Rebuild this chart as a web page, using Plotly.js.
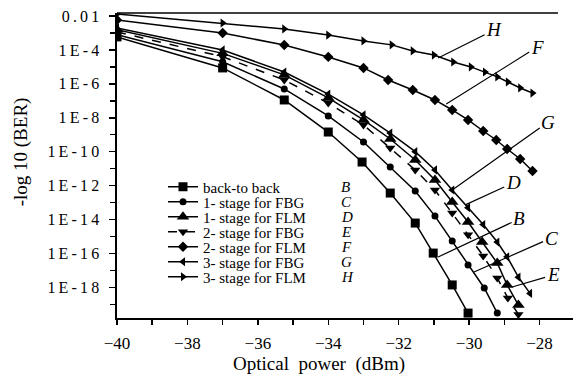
<!DOCTYPE html>
<html>
<head>
<meta charset="utf-8">
<script src="https://cdn.plot.ly/plotly-3.0.1.min.js"></script>
<style>html,body{margin:0;padding:0;background:#fff;}#chart{width:573px;height:385px;}</style>
</head>
<body>
<div id="chart"></div>
<script>
// log10(BER) values
var seriesNames = ["back-to back", "1- stage for FBG", "1- stage for FLM", "2- stage for FBG", "2- stage for FLM", "3- stage for FBG", "3- stage for FLM"];
var seriesLetters = ["B", "C", "D", "E", "F", "G", "H"];

var xB = [-40, -37, -35.25, -34, -33.04, -32.24, -31.53, -31.02, -30.48, -30.03];
var yB = [-3.23, -5.06, -6.95, -8.84, -10.61, -12.44, -14.21, -15.98, -17.86, -19.52];

var xC = [-40, -37, -35.25, -34, -33, -32.24, -31.53, -30.97, -30.48, -30.03, -29.57, -29.2];
var yC = [-3.1, -4.7, -6.3, -7.89, -9.43, -10.9, -12.32, -13.8, -15.27, -16.68, -18.04, -19.52];

var xD = [-40, -37, -35.25, -34, -33, -32.24, -31.53, -30.97, -30.48, -30.03, -29.63, -29.2, -28.92, -28.6];
var yD = [-2.8, -4.2, -5.47, -6.83, -8.13, -9.25, -10.49, -11.67, -12.97, -14.15, -15.33, -16.57, -17.86, -19.05];

var xE = [-40, -37, -35.25, -34, -33, -32.24, -31.53, -30.97, -30.48, -30.03, -29.6, -29.2, -28.9, -28.6];
var yE = [-2.94, -4.4, -5.77, -7.13, -8.42, -9.78, -11.08, -12.26, -13.62, -14.9, -16.15, -17.45, -18.63, -19.6];

var xF = [-40, -37, -35.25, -34, -33, -32.3, -31.6, -30.97, -30.48, -30.03, -29.6, -29.23, -28.92, -28.55, -28.2];
var yF = [-2.23, -3.0, -3.71, -4.41, -5.06, -5.77, -6.36, -6.95, -7.54, -8.13, -8.78, -9.31, -9.84, -10.43, -11.14];

var xG = [-40, -37, -35.25, -34, -33, -32.24, -31.53, -30.97, -30.48, -30.03, -29.6, -29.2, -28.92, -28.6, -28.27];
var yG = [-2.7, -4.0, -5.3, -6.6, -7.83, -8.9, -10.0, -11.08, -12.26, -13.3, -14.3, -15.33, -16.2, -17.4, -18.36];

var xH = [-40, -37, -35.25, -34, -33, -32.2, -31.6, -31.0, -30.45, -29.95, -29.55, -29.2, -28.9, -28.55, -28.2];
var yH = [-1.88, -2.41, -2.76, -3.12, -3.47, -3.7, -4.06, -4.3, -4.71, -5.0, -5.3, -5.59, -5.89, -6.24, -6.54];

var xTickVals = [-40, -38, -36, -34, -32, -30, -28];
var xTickText = ["\u221240", "\u221238", "\u221236", "\u221234", "\u221232", "\u221230", "\u221228"];
var yTickVals = [-2, -4, -6, -8, -10, -12, -14, -16, -18];
var yTickText = ["0.01", "1E-4", "1E-6", "1E-8", "1E-10", "1E-12", "1E-14", "1E-16", "1E-18"];

// callout label tips (x, y) and text offsets (px)
var calloutX = [-30.88, -30.65, -30.48, -30.11, -30.88, -29.86, -28.78];
var calloutY = [-4.47, -7.19, -12.26, -13.14, -16.21, -17.1, -17.98];
var calloutText = ["H", "F", "G", "D", "B", "C", "E"];
var calloutAX = [56, 91, 96, 48, 81, 77, 41];
var calloutAY = [-28, -57, -68, -22, -38, -34, -12];

var serif = "Liberation Serif, Times New Roman, serif";
function sp(s){ return s.split("").join("\u2009"); }

var xs = [xB, xC, xD, xE, xF, xG, xH];
var ys = [yB, yC, yD, yE, yF, yG, yH];
var symbols = ["square", "circle", "triangle-up", "triangle-down", "diamond", "triangle-left", "triangle-right"];
var sizes = [9, 7, 11, 9, 8, 8, 8];
var dashes = ["solid", "solid", "solid", "dash", "solid", "solid", "solid"];

// legend rows (pixel centres in the reference), one small legend per series
var rowPx = [187, 202, 217, 232, 247, 262, 277];
var plotTop = 13, plotH = 305;

var traces = [];
var layoutLegends = {};
for (var i = 0; i < xs.length; i++) {
  var lname = i === 0 ? "legend" : "legend" + (i + 1);
  traces.push({
    x: xs[i], y: ys[i], name: seriesNames[i], type: "scatter", mode: "lines+markers",
    legend: lname,
    line: {color: "#000", width: 1.5, dash: dashes[i]},
    marker: {symbol: symbols[i], size: sizes[i], color: "#000"}
  });
  layoutLegends[lname] = {
    x: (163 - 117) / 456, y: 1 - (rowPx[i] - plotTop) / plotH, xanchor: "left", yanchor: "middle",
    bgcolor: "rgba(0,0,0,0)", borderwidth: 0,
    font: {family: serif, size: 15, color: "#000"}
  };
}

var annotations = [];
for (var j = 0; j < calloutX.length; j++) {
  annotations.push({
    x: calloutX[j], y: calloutY[j], xref: "x", yref: "y", text: "<i>" + calloutText[j] + "</i>",
    showarrow: true, arrowhead: 0, arrowwidth: 1.2, arrowcolor: "#000",
    ax: calloutAX[j], ay: calloutAY[j],
    font: {family: serif, size: 19, color: "#000"}
  });
}
// letters next to legend rows
for (var k = 0; k < seriesLetters.length; k++) {
  annotations.push({
    xref: "paper", yref: "paper", x: (339 - 117) / 456, y: 1 - (rowPx[k] - plotTop) / plotH, xanchor: "left", yanchor: "middle",
    text: "<i>" + seriesLetters[k] + "</i>", showarrow: false,
    font: {family: serif, size: 15, color: "#000"}
  });
}
annotations.push({
  xref: "paper", yref: "paper", x: 0.443, y: -0.152, xanchor: "center", yanchor: "middle",
  text: "Optical\u00a0\u00a0power\u00a0\u00a0(dBm)", showarrow: false,
  font: {family: serif, size: 19, color: "#000"}
});
annotations.push({
  xref: "paper", yref: "paper", x: -0.21, y: 0.544, xanchor: "center", yanchor: "middle",
  text: "-log\u00a010\u00a0(BER)", showarrow: false, textangle: -90,
  font: {family: serif, size: 19, color: "#000"}
});

var layout = {
  width: 573, height: 385,
  margin: {l: 117, r: 0, t: 13, b: 67},
  paper_bgcolor: "#fff", plot_bgcolor: "#fff",
  showlegend: true,
  xaxis: {
    range: [-40, -27.05], showgrid: false, zeroline: false,
    showline: true, linecolor: "#000", linewidth: 2,
    tickmode: "array", tickvals: xTickVals, ticktext: xTickText,
    ticks: "outside", ticklen: 5, tickwidth: 1.5, tickcolor: "#000",
    minor: {dtick: 1, ticks: "outside", ticklen: 5, tickwidth: 1.5, tickcolor: "#000", showgrid: false},
    tickfont: {family: serif, size: 17, color: "#000"}, ticklabelstandoff: 4
  },
  yaxis: {
    range: [-19.81, -1.82], showgrid: false, zeroline: false,
    showline: true, linecolor: "#000", linewidth: 2.5,
    tickmode: "array", tickvals: yTickVals, ticktext: yTickText.map(sp),
    ticks: "outside", ticklen: 6, tickwidth: 1.5, tickcolor: "#000",
    minor: {dtick: 1, ticks: "outside", ticklen: 5, tickwidth: 1.5, tickcolor: "#000", showgrid: false},
    tickfont: {family: serif, size: 16, color: "#000"}, ticklabelstandoff: 6
  },
  shapes: [{type: "line", xref: "paper", yref: "paper", x0: 0, x1: 0.967, y0: 1, y1: 1,
            line: {color: "#000", width: 1.5}}],
  annotations: annotations
};
for (var key in layoutLegends) layout[key] = layoutLegends[key];

Plotly.newPlot("chart", traces, layout, {staticPlot: true, displayModeBar: false});
</script>
</body>
</html>
